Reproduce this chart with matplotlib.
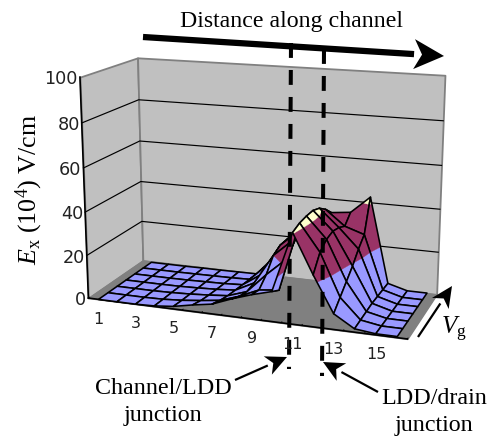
import numpy as np
import matplotlib
matplotlib.use("Agg")
import matplotlib.pyplot as plt
from mpl_toolkits.mplot3d import proj3d
from mpl_toolkits.mplot3d.art3d import Poly3DCollection

W, H = 492, 437
plt.rcParams['mathtext.fontset'] = 'custom'
plt.rcParams['mathtext.rm'] = 'Liberation Serif'
plt.rcParams['mathtext.it'] = 'Liberation Serif:italic'

x_pos = list(range(1, 17))
x_tick_labels = ['1', '3', '5', '7', '9', '11', '13', '15']
x_tick_pos = [1, 3, 5, 7, 9, 11, 13, 15]
z_ticks = [0, 20, 40, 60, 80, 100]
vg_rows = list(range(1, 8))
row1 = [0, 0, 0, .3, 1.2, 3, 4.5, 8, 11, 13.5, 40.5, 23, 7, 1.5, .5, .5]
row2 = [0, 0, 0, .2, .8, 1.8, 3, 6, 10, 11, 42, 30, 11, 2, .5, .5]
row3 = [0, 0, 0, .2, .6, 1.2, 2, 5, 14, 22, 42.5, 33, 15, 2.5, .5, .5]
row4 = [0, 0, 0, .1, .4, .8, 1.5, 6, 20, 28, 42.5, 34, 19, 3, .5, .5]
row5 = [0, 0, 0, .1, .3, .5, 1, 7, 22, 30, 41, 33, 24, 3, .5, .5]
row6 = [0, 0, 0, .1, .2, .3, .6, 9, 22, 31, 38, 31, 28, 3, .5, .5]
row7 = [0, 0, 0, .1, .1, .2, .3, 10, 20, 30, 34, 35, 43, 3, .5, .5]
Z = np.array([row1, row2, row3, row4, row5, row6, row7], float)

bands = [(-1, 20, '#9999FF'), (20, 40, '#993366'), (40, 60, '#FFFFCC')]
XMIN, XMAX, YMIN, YMAX = 0.5, 16.5, 0.95, 7.05

fig = plt.figure(figsize=(W/100, H/100), dpi=100)
ax = fig.add_axes([0, 0, 1, 1], projection='3d', computed_zorder=False)
ax.set_xlim(XMIN, XMAX); ax.set_ylim(YMIN, YMAX); ax.set_zlim(0, 100)
ax.view_init(elev=14.7877, azim=-70.3201, roll=-0.0062)
ax.set_proj_type('persp', focal_length=0.5566)
ax.set_box_aspect((1, 0.3929, 0.6854))
L, cx, cy = 410.62, 257.70, 194.34
ax.set_position([(cx-L/2)/W, 1-(cy+L/2)/H, L/W, L/H])
ax.set_axis_off()

def clip(poly, lo, hi):
    def cut(pts, keep):
        out = []
        for i in range(len(pts)):
            a, b = pts[i], pts[(i+1) % len(pts)]
            ka, kb = keep(a[2]), keep(b[2])
            if ka >= 0: out.append(a)
            if ka*kb < 0:
                t = ka/(ka-kb); out.append(a + t*(b-a))
        return out
    pts = cut(list(poly), lambda z: z-lo)
    if pts: pts = cut(pts, lambda z: hi-z)
    return pts

zo = 1
NONE = (0, 0, 0, 0)
def P(verts, fc, ec=NONE, lw=0):
    global zo
    c = Poly3DCollection([np.array(v) for v in verts], facecolors=fc, edgecolors=ec, linewidths=lw, zorder=zo)
    ax.add_collection3d(c, autolim=False); zo += 1

wall = '#C0C0C0'; edge = '#808080'
P([[(XMIN, YMIN, 0), (XMIN, YMAX, 0), (XMIN, YMAX, 100), (XMIN, YMIN, 100)]], wall, edge, 1.3)
P([[(XMIN, YMAX, 0), (XMAX, YMAX, 0), (XMAX, YMAX, 100), (XMIN, YMAX, 100)]], wall, edge, 1.3)
P([[(XMIN, YMIN, 0), (XMAX, YMIN, 0), (XMAX, YMAX, 0), (XMIN, YMAX, 0)]], '#808080', edge, 1)
for zt in z_ticks[1:-1]:
    ax.plot([XMIN, XMIN, XMAX], [YMIN, YMAX, YMAX], [zt, zt, zt], color='black', lw=.85, zorder=zo)
ax.plot([XMIN, XMIN], [YMIN, YMIN], [0, 100], color='black', lw=1.2, zorder=zo)
ax.plot([XMIN, XMAX], [YMIN, YMIN], [0, 0], color='black', lw=1.2, zorder=zo)
zo += 1
for xt in np.arange(XMIN, XMAX+.1, 1):
    ax.plot([xt, xt], [YMIN, YMIN+.13], [0, 0], color='black', lw=.6, zorder=zo)
zo += 1
for j in range(len(vg_rows)-2, -1, -1):
    for i in range(len(x_pos)-1):
        q = np.array([(x_pos[i], vg_rows[j], Z[j, i]), (x_pos[i+1], vg_rows[j], Z[j, i+1]),
                      (x_pos[i+1], vg_rows[j+1], Z[j+1, i+1]), (x_pos[i], vg_rows[j+1], Z[j+1, i])])
        for lo, hi, col in bands:
            pts = clip(q, lo, hi)
            if len(pts) >= 3:
                P([pts], col, col, .2)
        P([q], NONE, 'black', 1.15)

ov = fig.add_axes([0, 0, 1, 1], zorder=5)
ov.set_xlim(0, W); ov.set_ylim(H, 0); ov.axis('off'); ov.patch.set_alpha(0)

def to_px(x, y, z):
    u, v, _ = proj3d.proj_transform(x, y, z, ax.get_proj())
    px, py = ax.transData.transform((float(u), float(v)))
    return px, H - py

for zt in z_ticks:
    px, py = to_px(XMIN, YMIN, zt)
    ov.text(px-2, py+2, str(zt), ha='right', va='center', fontsize=12.7, color='#222222', family='DejaVu Sans')
for xt, lab in zip(x_tick_pos, x_tick_labels):
    px, py = to_px(xt, YMIN, 0)
    ov.text(px+1, py+20, lab, ha='center', va='center', fontsize=11.5, color='#222222', family='DejaVu Sans')

serif = 'Liberation Serif'
ov.text(292, 22, 'Distance along channel', ha='center', va='center', fontsize=17.2, family=serif)
ov.text(163, 388, 'Channel/LDD', ha='center', va='center', fontsize=17.3, family=serif)
ov.text(163, 415, 'junction', ha='center', va='center', fontsize=17.3, family=serif)
ov.text(434, 399, 'LDD/drain', ha='center', va='center', fontsize=17.3, family=serif)
ov.text(434, 425, 'junction', ha='center', va='center', fontsize=17.3, family=serif)
ov.text(29, 190, r'$\mathit{E}_{\mathrm{x}}\ (10^{4})\ \mathrm{V/cm}$', rotation=90, ha='center', va='center', fontsize=18.7)
ov.text(441, 329, r'$\mathit{V}_{\mathrm{g}}$', ha='left', va='center', fontsize=18)

def arr(a, b, lw, hl, hw, notch):
    a, b = np.array(a, float), np.array(b, float)
    d = (b-a)/np.linalg.norm(b-a); n = np.array([-d[1], d[0]])
    ov.plot([a[0], (b-d*hl)[0]], [a[1], (b-d*hl)[1]], color='black', lw=lw, solid_capstyle='butt')
    head = [b, b-d*hl+n*hw, b-d*(hl-notch), b-d*hl-n*hw]
    ov.fill([p[0] for p in head], [p[1] for p in head], color='black', lw=0)
arr((143, 37), (444, 56), 4.5, 30, 15, 8)
arr((235, 380), (287, 357), 1.6, 21, 10, 6)
arr((378, 392), (323, 362), 1.6, 21, 10, 6)
arr((418, 337), (452, 286), 1.6, 21, 10, 6)
ov.plot([291, 289], [43, 369], color='black', lw=2.9, dashes=(3.7, 3.0), dash_capstyle='butt')
ov.plot([324, 322], [49, 376], color='black', lw=2.9, dashes=(3.7, 3.0), dash_capstyle='butt')
fig.savefig('out.png', dpi=100)
